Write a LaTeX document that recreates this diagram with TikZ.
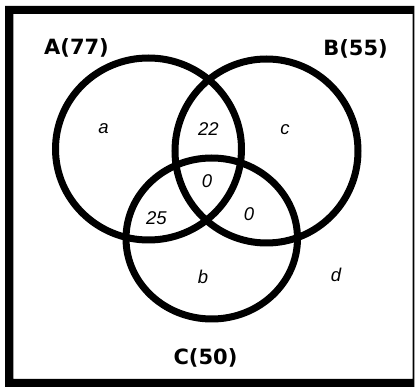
\documentclass[tikz,border=0pt]{standalone}
\usepackage{fontspec}
\setmainfont{DejaVu Sans}
\newfontfamily\lblfont{Liberation Sans}
\begin{document}
\begin{tikzpicture}[x=1pt,y=-1pt,
  ring/.style={line width=7pt},
  setname/.style={font=\fontsize{21}{23}\selectfont\bfseries, inner sep=0pt},
  region/.style={font=\lblfont\fontsize{18.5}{20}\selectfont\itshape, inner sep=0pt}]
\useasboundingbox (0,0) rectangle (416,387);
% frame
\fill[black,even odd rule] (5,6) rectangle (414.3,387) (13.3,14) rectangle (412.7,379);
% circles
\draw[ring] (148.5,149) ellipse [x radius=93, y radius=91];
\draw[ring] (266.5,151) ellipse [x radius=91.5, y radius=92];
\draw[ring] (211.75,238.5) ellipse [x radius=85.75, y radius=80.5];
% set names
\node[setname] (nA) at (76.5,47.5) {A(77)};
\node[setname] (nB) at (355.5,48.5) {B(55)};
\node[setname] (nC) at (205.5,358) {C(50)};
% region labels
\node[region] (ra) at (103.5,129) {a};
\node[region] (rab) at (208.5,129) {22};
\node[region] (rc) at (285,130) {c};
\node[region] (rabc) at (207,181) {0};
\node[region] (rac) at (156.5,218) {25};
\node[region] (rbc) at (249,214.5) {0};
\node[region] (rb) at (203,277) {b};
\node[region] (rd) at (336,275) {d};
\end{tikzpicture}
\end{document}
